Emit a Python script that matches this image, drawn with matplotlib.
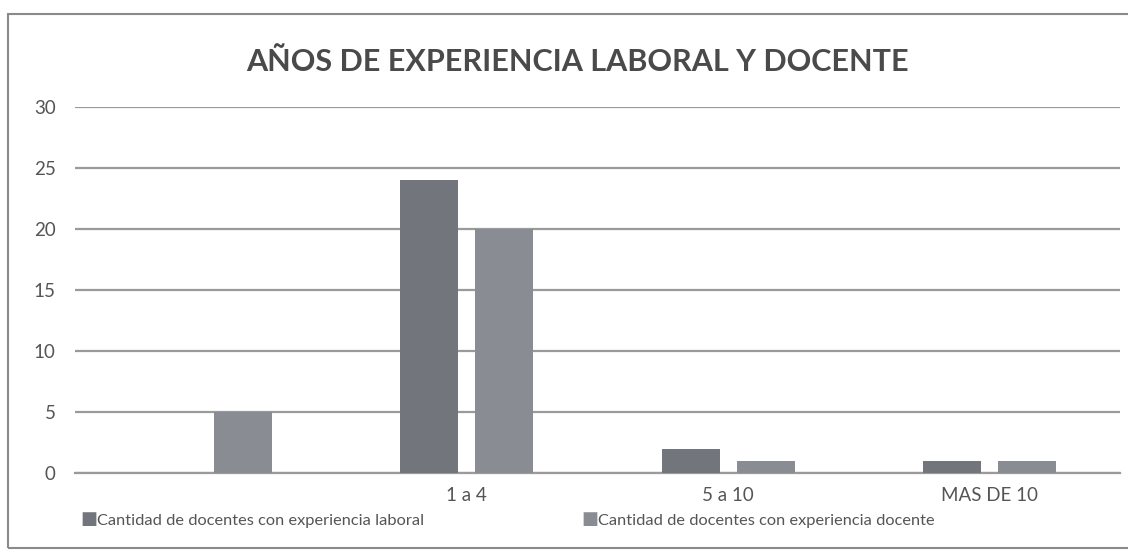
import numpy as np
import matplotlib.pyplot as plt
from matplotlib.patches import Rectangle

# datos del grafico
categorias = ["", "1 a 4", "5 a 10", "MAS DE 10"]
exp_laboral = [0, 24, 2, 1]
exp_docente = [5, 20, 1, 1]
series = ["Cantidad de docentes con experiencia laboral",
          "Cantidad de docentes con experiencia docente"]

plt.rcParams['font.family'] = ['Lato', 'DejaVu Sans']

fig = plt.figure(figsize=(11.28, 5.56), dpi=100)
ax = fig.add_axes([75/1128, 1 - 473/556, 1045/1128, (473 - 107)/556])

x = np.arange(len(categorias))
w = 0.222
d = 0.144
ax.bar(x - d, exp_laboral, w, color='#72767c', zorder=3)
ax.bar(x + d, exp_docente, w, color='#898c92', zorder=3)

ax.set_xlim(-0.5, 3.5)
ax.set_ylim(0, 30)
ax.set_yticks(range(0, 31, 5))
ax.yaxis.grid(True, color='#9a9a9a', lw=1.6, zorder=0)
ax.tick_params(axis='y', length=0, pad=14, labelsize=13.5, labelcolor='#555555')
ax.set_xticks(x)
ax.set_xticklabels(categorias)
ax.tick_params(axis='x', length=0, pad=10, labelsize=13.5, labelcolor='#555555')
for s in ['top', 'right', 'left']:
    ax.spines[s].set_visible(False)
ax.spines['bottom'].set_color('#9a9a9a')
ax.spines['bottom'].set_linewidth(1.6)

fig.text(577/1128, 1 - 62/556, "AÑOS DE EXPERIENCIA LABORAL Y DOCENTE",
         ha='center', va='center', fontsize=22, fontweight='bold', color='#4a4a4a')

# leyenda inferior
fig.text(80/1128, 1 - 519/556, "\u25A0", fontsize=13, color='#72767c', va='center')
fig.text(97/1128, 1 - 521/556, series[0], fontsize=11.8, color='#555555', va='center')
fig.text(581/1128, 1 - 519/556, "\u25A0", fontsize=13, color='#898c92', va='center')
fig.text(598/1128, 1 - 521/556, series[1], fontsize=11.8, color='#555555', va='center')

# marco del grafico
fig.add_artist(Rectangle((8/1128, 1 - 548/556), 1.2, (548 - 14)/556,
                         transform=fig.transFigure, fill=False,
                         edgecolor='#8a8a8a', lw=1.5))

fig.savefig('out.png', dpi=100)
